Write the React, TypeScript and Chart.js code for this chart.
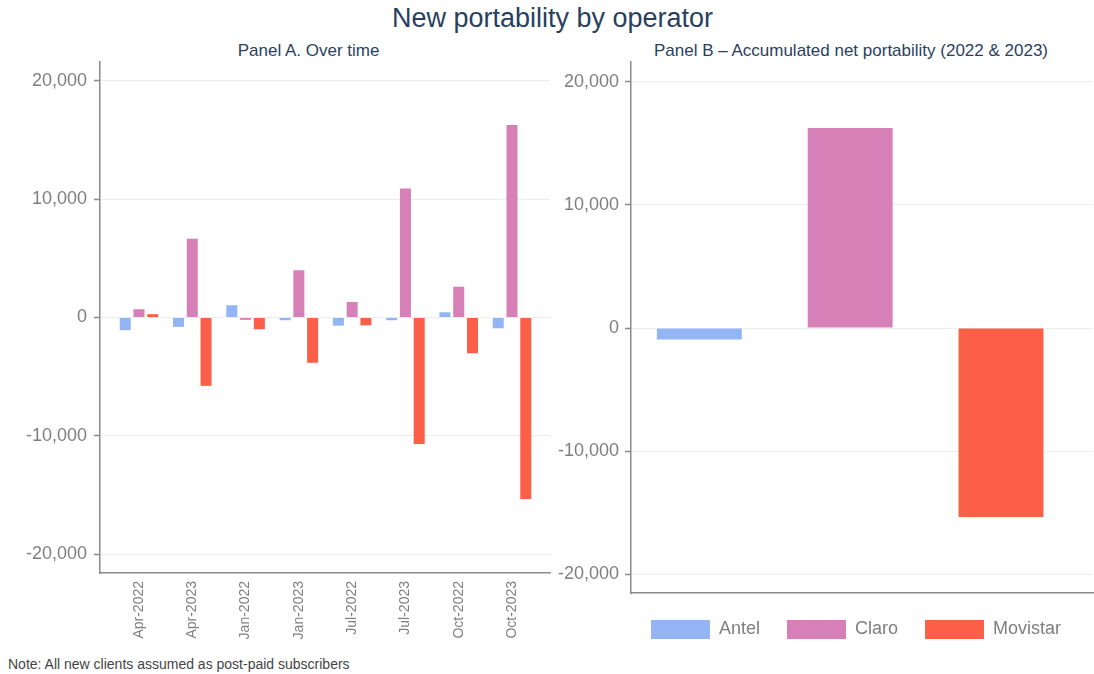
import React, { useEffect, useRef } from "react";
import { Chart, registerables } from "chart.js";

Chart.register(...registerables);

const FONT = "'Liberation Sans', Arial, Helvetica, sans-serif";

const CATEGORIES = ["Apr-2022", "Apr-2023", "Jan-2022", "Jan-2023", "Jul-2022", "Jul-2023", "Oct-2022", "Oct-2023"];
const OPERATORS = ["Antel", "Claro", "Movistar"];
const ANTEL_OVER_TIME = [-1070, -790, 1040, -230, -690, -230, 440, -910];
const CLARO_OVER_TIME = [700, 6650, -200, 3990, 1310, 10880, 2600, 16250];
const MOVISTAR_OVER_TIME = [280, -5770, -990, -3820, -660, -10670, -3020, -15330];
const ACCUMULATED = [-920, 16250, -15330];
const Y_TICKS = [-20000, -10000, 0, 10000, 20000];
const COLORS = ["#93b5f5", "#d780b8", "#fc5f48"];

const TITLE = "New portability by operator";
const PANEL_A_TITLE = "Panel A. Over time";
const PANEL_B_TITLE = "Panel B \u2013 Accumulated net portability (2022 & 2023)";
const NOTE = "Note: All new clients assumed as post-paid subscribers";

const fmt = (v: number) => Number(v).toLocaleString("en-US");

export default function App() {
  const refA = useRef<HTMLCanvasElement>(null);
  const refB = useRef<HTMLCanvasElement>(null);

  useEffect(() => {
    Chart.defaults.font.family = FONT;
    const axisGray = "#8a8a8a";
    const gridColor = "#e9efef";
    const tickText = "#7f7f7f";

    const yAxis = (min: number, max: number, width: number, pad: number) => ({
      min,
      max,
      bounds: "data",
      afterBuildTicks: (s: any) => {
        s.ticks = Y_TICKS.map((v) => ({ value: v }));
      },
      afterFit: (s: any) => {
        s.width = width;
      },
      ticks: { callback: (v: any) => fmt(v), color: tickText, font: { size: 18 }, padding: pad },
      grid: { color: gridColor, lineWidth: 1, drawTicks: true, tickLength: 6, tickColor: axisGray, tickWidth: 1.5 },
      border: { display: true, color: axisGray, width: 1.5 },
    });

    const series = [ANTEL_OVER_TIME, CLARO_OVER_TIME, MOVISTAR_OVER_TIME];

    const chartA = new Chart(refA.current as HTMLCanvasElement, {
      type: "bar",
      data: {
        datasets: OPERATORS.map((name, k) => ({
          label: name,
          data: series[k].map((v, i) => ({ x: i, y: v })),
          backgroundColor: COLORS[k],
          borderWidth: 0,
          categoryPercentage: 0.775,
          barPercentage: 0.8,
        })),
      },
      options: {
        responsive: false,
        animation: false,
        layout: { padding: { left: 0, right: 6, top: 22, bottom: 0 } },
        plugins: { legend: { display: false }, tooltip: { enabled: false }, title: { display: false } },
        scales: {
          x: {
            type: "linear",
            min: -0.732,
            max: 7.713,
            bounds: "data",
            offset: false,
            afterBuildTicks: (s: any) => {
              s.ticks = CATEGORIES.map((_, i) => ({ value: i }));
            },
            afterFit: (s: any) => {
              s.height = 80;
            },
            ticks: {
              callback: (v: any) => CATEGORIES[v] ?? "",
              autoSkip: false,
              maxRotation: 90,
              minRotation: 90,
              color: tickText,
              font: { size: 14 },
              padding: 8,
            },
            grid: { display: false, drawTicks: false, offset: false },
            border: { display: true, color: axisGray, width: 1.5 },
          },
          y: yAxis(-21570, 21570, 100, 7) as any,
        },
      } as any,
    });

    const chartB = new Chart(refB.current as HTMLCanvasElement, {
      type: "bar",
      data: {
        datasets: OPERATORS.map((name, k) => ({
          label: name,
          data: [{ x: k, y: ACCUMULATED[k] }],
          backgroundColor: COLORS[k],
          borderWidth: 0,
          grouped: false,
          categoryPercentage: 1,
          barPercentage: 0.563,
        })),
      },
      options: {
        responsive: false,
        animation: false,
        layout: { padding: { left: 0, right: 0, top: 22, bottom: 0 } },
        plugins: {
          tooltip: { enabled: false },
          title: { display: false },
          legend: {
            display: true,
            position: "bottom",
            labels: {
              boxWidth: 59,
              boxHeight: 19,
              padding: 27,
              color: tickText,
              font: { size: 18 },
            },
          },
        },
        scales: {
          x: {
            type: "linear",
            min: -0.453,
            max: 2.61,
            bounds: "data",
            offset: false,
            afterBuildTicks: (s: any) => {
              s.ticks = OPERATORS.map((_, i) => ({ value: i }));
            },
            afterFit: (s: any) => {
              s.height = 0;
            },
            ticks: { display: false },
            grid: { display: false, drawTicks: false, offset: false },
            border: { display: true, color: axisGray, width: 1.5 },
          },
          y: yAxis(-21500, 21600, 83, 6) as any,
          spacer: {
            type: "linear",
            position: "right",
            display: true,
            afterFit: (s: any) => {
              s.width = 71;
            },
            ticks: { display: false },
            grid: { display: false, drawTicks: false },
            border: { display: false },
          },
        },
      } as any,
    });

    return () => {
      chartA.destroy();
      chartB.destroy();
    };
  }, []);

  const textBase: React.CSSProperties = {
    position: "absolute",
    lineHeight: 1,
    whiteSpace: "nowrap",
    fontFamily: FONT,
  };

  return (
    <div style={{ position: "absolute", left: 0, top: 0, width: 1094, height: 674, background: "#fff", overflow: "hidden" }}>
      <div style={{ ...textBase, left: 552.5, top: 5, transform: "translateX(-50%)", fontSize: 27, color: "#2a3f5f" }}>{TITLE}</div>
      <div style={{ ...textBase, left: 308.6, top: 42, transform: "translateX(-50%)", fontSize: 17, color: "#2a3f5f" }}>{PANEL_A_TITLE}</div>
      <div style={{ ...textBase, left: 851, top: 42, transform: "translateX(-50%)", fontSize: 17, color: "#2a3f5f" }}>{PANEL_B_TITLE}</div>
      <canvas ref={refA} width={556} height={613} style={{ position: "absolute", left: 0, top: 40, width: 556, height: 613 }} />
      <canvas ref={refB} width={616} height={609} style={{ position: "absolute", left: 548, top: 40, width: 616, height: 609 }} />
      <div style={{ ...textBase, left: 8, top: 657, fontSize: 14, color: "#444" }}>{NOTE}</div>
    </div>
  );
}
